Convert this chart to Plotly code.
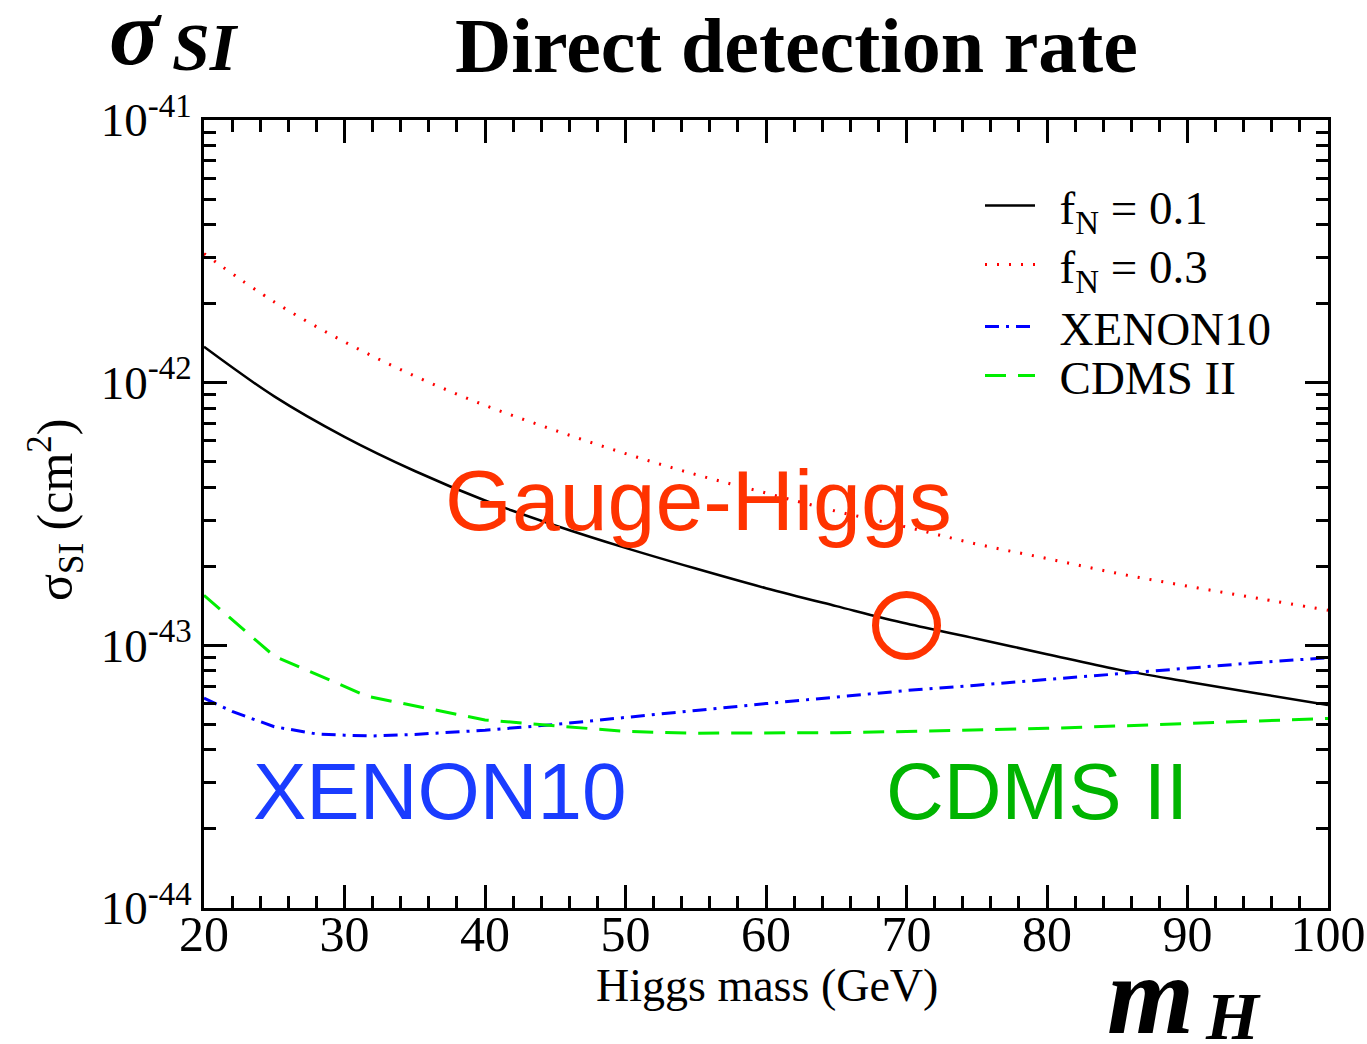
import plotly.graph_objects as go

# ---------------- data ----------------
mass = [20, 25, 30, 35, 40, 45, 50, 55, 60, 65, 70, 75, 80, 85, 90, 95, 100]
sigma_fn01 = [1.37e-42, 8.87e-43, 6.22e-43, 4.61e-43, 3.56e-43, 2.86e-43, 2.35e-43, 1.96e-43,
              1.65e-43, 1.41e-43, 1.21e-43, 1.06e-43, 9.25e-44, 8.1e-44, 7.27e-44, 6.56e-44, 5.93e-44]
sigma_fn03 = [3.10e-42, 2.03e-42, 1.43e-42, 1.06e-42, 8.2e-43, 6.58e-43, 5.37e-43, 4.47e-43,
              3.8e-43, 3.24e-43, 2.82e-43, 2.43e-43, 2.14e-43, 1.88e-43, 1.68e-43, 1.51e-43, 1.36e-43]

xenon_mass = [20, 22, 25, 28, 30, 32, 35, 40, 45, 50, 55, 60, 65, 70, 75, 80, 85, 90, 95, 100]
xenon_sigma = [6.3e-44, 5.6e-44, 4.9e-44, 4.6e-44, 4.55e-44, 4.52e-44, 4.58e-44, 4.75e-44, 5.0e-44,
               5.3e-44, 5.65e-44, 6.0e-44, 6.35e-44, 6.73e-44, 7.05e-44, 7.4e-44, 7.8e-44, 8.2e-44,
               8.6e-44, 8.97e-44]

cdms_mass = [20, 25, 31.6, 35, 40, 45, 50, 55, 60, 65, 70, 75, 80, 85, 90, 95, 100]
cdms_sigma = [1.55e-43, 9.1e-44, 6.4e-44, 5.9e-44, 5.2e-44, 4.94e-44, 4.7e-44, 4.63e-44, 4.63e-44,
              4.65e-44, 4.7e-44, 4.76e-44, 4.83e-44, 4.93e-44, 5.03e-44, 5.15e-44, 5.27e-44]

circle_mass = [70]
circle_sigma = [1.19e-43]

x_ticks = [20, 30, 40, 50, 60, 70, 80, 90, 100]
y_ticks = [1e-44, 1e-43, 1e-42, 1e-41]
y_ticktext = ["10<sup>-44</sup>", "10<sup>-43</sup>", "10<sup>-42</sup>", "10<sup>-41</sup>"]
y_minor = [k * 10.0 ** e for e in (-44, -43, -42) for k in range(2, 10)]

SERIF = "Liberation Serif"
SANS = "Liberation Sans"
GAP = "\u00a0\u2006"

# plot-area geometry in pixels (for placing free texts)
L, R, T, B = 204, 1328, 120, 908


def px_to_paper(x, y):
    return (x - L) / (R - L), 1 - (y - T) / (B - T)


fig = go.Figure()
fig.add_trace(go.Scatter(x=mass, y=sigma_fn01, mode="lines", name=GAP + "f<sub>N</sub> = 0.1",
                         legend="legend",
                         line=dict(color="black", width=2.5, shape="spline", smoothing=1.0)))
fig.add_trace(go.Scatter(x=mass, y=sigma_fn03, mode="lines", name=GAP + "f<sub>N</sub> = 0.3",
                         legend="legend2",
                         line=dict(color="#ff0000", width=3, dash="2px,10px", shape="spline", smoothing=1.0)))
fig.add_trace(go.Scatter(x=xenon_mass, y=xenon_sigma, mode="lines", name=GAP + "XENON10",
                         legend="legend3",
                         line=dict(color="#0000ff", width=3, dash="14px,7px,3px,7px")))
fig.add_trace(go.Scatter(x=cdms_mass, y=cdms_sigma, mode="lines", name=GAP + "CDMS II",
                         legend="legend4",
                         line=dict(color="#00ee00", width=3, dash="21px,12px")))
fig.add_trace(go.Scatter(x=circle_mass, y=circle_sigma, mode="markers", showlegend=False,
                         marker=dict(symbol="circle-open", size=62, color="#ff3300",
                                     line=dict(color="#ff3300", width=7))))

axis_common = dict(showline=True, linecolor="black", linewidth=3, mirror="ticks",
                   ticks="inside", ticklen=23, tickwidth=2.5, tickcolor="black",
                   showgrid=False, zeroline=False, automargin=False)

fig.update_xaxes(range=[20, 100], tickvals=x_ticks, ticktext=[str(v) for v in x_ticks],
                 minor=dict(ticks="inside", ticklen=12, tickwidth=2.5, tickcolor="black",
                            dtick=2, tick0=20, showgrid=False),
                 ticklabelstandoff=-20,
                 tickfont=dict(family=SERIF, size=50, color="black"),
                 **axis_common)
fig.update_yaxes(type="log", range=[-44, -41], tickvals=y_ticks, ticktext=y_ticktext,
                 minor=dict(ticks="inside", ticklen=12, tickwidth=2.5, tickcolor="black",
                            tickvals=y_minor, showgrid=False),
                 tickfont=dict(family=SERIF, size=47, color="black"),
                 **axis_common)

# (text, centre x px, centre y px, size, angle)
texts = [
    ("<b>Direct detection rate</b>", 796, 46, 78, 0),
    ("<b><i>σ</i></b>", 135, 32, 94, 0),
    ("<b><i>SI</i></b>", 205, 47, 68, 0),
    ("<b><i>m</i></b>", 1150, 995, 112, 0),
    ("<b><i>H</i></b>", 1233, 1016, 68, 0),
    ("Higgs mass (GeV)", 767, 985, 46, 0),
    ("σ<sub>SI</sub> (cm<sup>2</sup>)", 55, 510, 50, -90),
]
for txt, xp, yp, size, ang in texts:
    px, py = px_to_paper(xp, yp)
    fig.add_annotation(xref="paper", yref="paper", x=px, y=py, text=txt, showarrow=False,
                       textangle=ang, font=dict(family=SERIF, size=size, color="black"),
                       xanchor="center", yanchor="middle")

labels = [("Gauge-Higgs", 55.2, -42.447, 86, "#ff3300"),
          ("XENON10", 36.73, -43.558, 80, "#1a3cff"),
          ("CDMS II", 79.3, -43.558, 80, "#00b400")]
for txt, xv, yv, size, col in labels:
    fig.add_annotation(x=xv, y=yv, xref="x", yref="y", text=txt, showarrow=False,
                       font=dict(family=SANS, size=size, color=col), xanchor="center", yanchor="middle")

legend_rows = [("legend", 206), ("legend2", 265), ("legend3", 327), ("legend4", 376)]
legends = {}
for key, row_y in legend_rows:
    lx, ly = px_to_paper(980, row_y)
    legends[key] = dict(x=lx, y=ly, xanchor="left", yanchor="middle", bgcolor="rgba(0,0,0,0)",
                        font=dict(family=SERIF, size=47, color="black"), itemwidth=50)

fig.update_layout(
    width=1367, height=1044, autosize=False,
    margin=dict(l=L, r=1367 - R, t=T, b=1044 - B),
    paper_bgcolor="white", plot_bgcolor="white",
    **legends,
)

fig.write_html("out.html", config={"displayModeBar": False},
               post_script="document.body.style.margin='0px';")
